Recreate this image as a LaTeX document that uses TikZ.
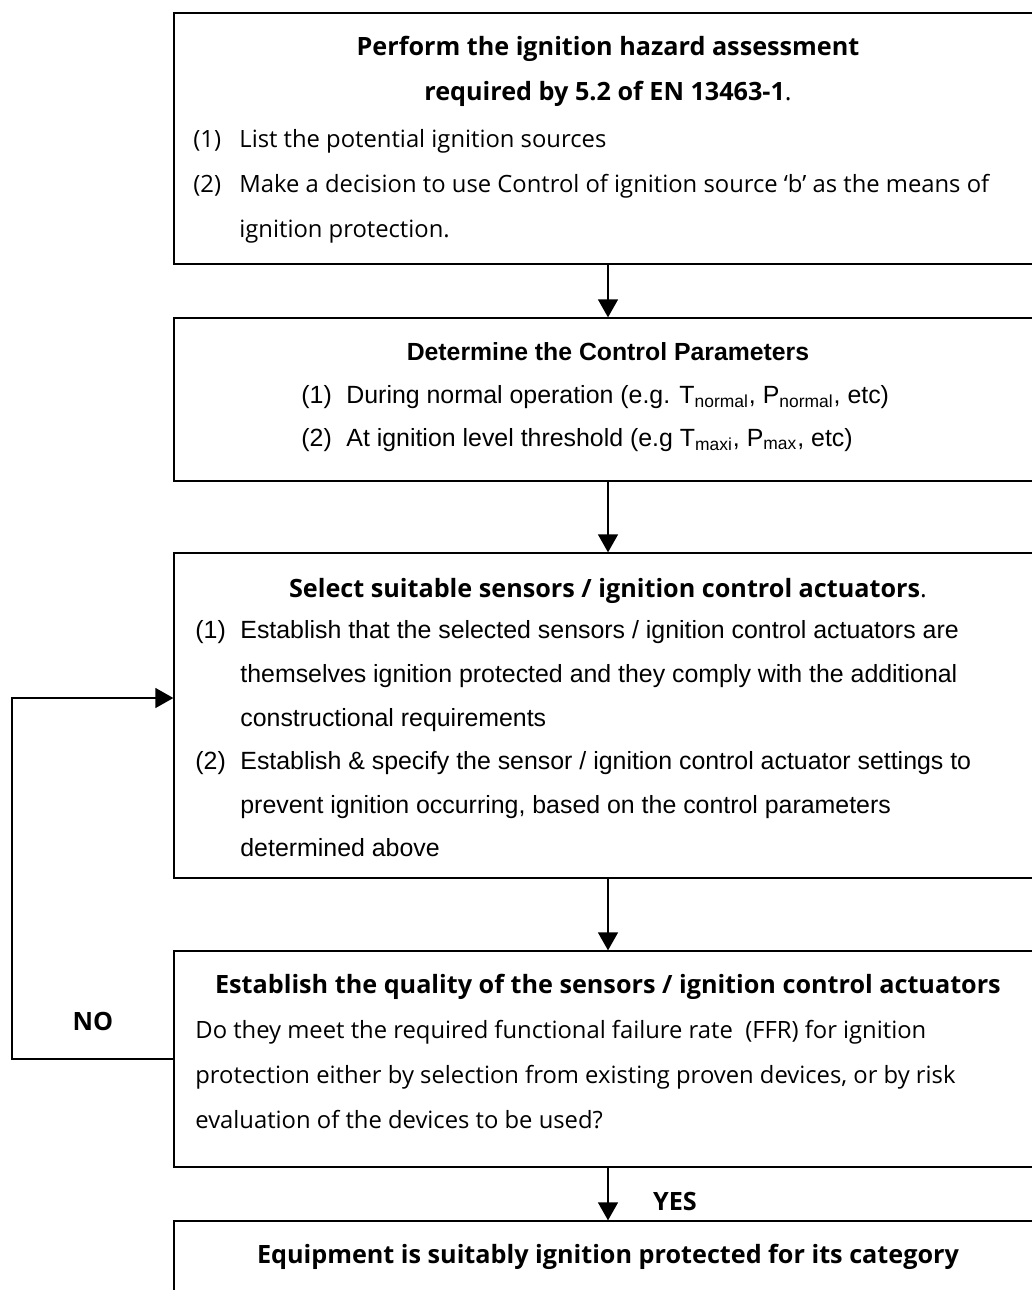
\documentclass[tikz,border=0pt]{standalone}
\usepackage{fontspec}
\setmainfont{Liberation Sans}
\newfontfamily\dotum{Open Sans}
\usetikzlibrary{arrows.meta, fit, positioning}

\tikzset{
  box/.style={draw=black, line width=0.65pt, inner sep=0pt},
  arr/.style={line width=0.65pt, -{Triangle[width=10pt,length=9pt]}},
  dtxt/.style={inner sep=0pt, anchor=base west, font=\dotum\fontsize{11.9}{14}\selectfont},
  dhead/.style={inner sep=0pt, anchor=base, font=\dotum\bfseries\fontsize{12.6}{15}\selectfont},
  atxt/.style={inner sep=0pt, anchor=base west, font=\fontsize{12.45}{14}\selectfont},
  ahead/.style={inner sep=0pt, anchor=base, font=\bfseries\fontsize{12.4}{14}\selectfont}
}

\begin{document}
\begin{tikzpicture}[x=0.5pt, y=-0.5pt]
\useasboundingbox (0,0) rectangle (1032,1290);

% Kroki procedury
\node[box, fit={(174,13) (1042,264)}] (b1) {};
\node[box, fit={(174,318) (1042,481)}] (b2) {};
\node[box, fit={(174,553) (1042,878)}] (b3) {};
\node[box, fit={(174,951) (1042,1167)}] (b4) {};
\node[box, fit={(174,1221) (1042,1330)}] (b5) {};

% Krok 1
\node[dhead] (t1) at (608,55) {Perform the ignition hazard assessment};
\node[dhead] (t1b) at (608,100) {required by 5.2 of EN 13463-1\textmd{.}};
\node[dtxt] (n11) at (193,147) {(1)};
\node[dtxt] (s11) at (239,147) {List the potential ignition sources};
\node[dtxt] (n12) at (193,192) {(2)};
\node[dtxt] (s12) at (239,192) {Make a decision to use Control of ignition source ‘b’ as the means of};
\node[dtxt] (s12b) at (239,237) {ignition protection.};

% Krok 2
\node[ahead] (t2) at (608,360) {Determine the Control Parameters};
\node[atxt] (n21) at (301,403) {(1)};
\node[atxt] (s21) at (346,403) {During normal operation (e.g. T\textsubscript{normal}, P\textsubscript{normal}, etc)};
\node[atxt] (n22) at (301,446) {(2)};
\node[atxt] (s22) at (346,446) {At ignition level threshold (e.g T\textsubscript{maxi}, P\textsubscript{max}, etc)};

% Krok 3
\node[dhead] (t3) at (608,597) {Select suitable sensors / ignition control actuators\textmd{.}};
\node[atxt] (n31) at (195,638) {(1)};
\node[atxt] (n32) at (195,769) {(2)};
\foreach \y/\txt [count=\k] in {
  638/{Establish that the selected sensors / ignition control actuators are},
  682/{themselves ignition protected and they comply with the additional},
  726/{constructional requirements},
  769/{Establish \& specify the sensor / ignition control actuator settings to},
  813/{prevent ignition occurring, based on the control parameters},
  856/{determined above}} {
  \node[atxt] (s3\k) at (240,\y) {\txt};
}

% Krok 4
\node[dhead] (t4) at (608,993) {Establish the quality of the sensors / ignition control actuators};
\foreach \y/\txt [count=\k] in {
  1038/{Do they meet the required functional failure rate\ \ (FFR) for ignition},
  1083/{protection either by selection from existing proven devices, or by risk},
  1128/{evaluation of the devices to be used?}} {
  \node[dtxt] (s4\k) at (195,\y) {\txt};
}

% Krok 5
\node[dhead] (t5) at (608,1263) {Equipment is suitably ignition protected for its category};

% Strzałki
\draw[arr] (b1.south) -- (b2.north);
\draw[arr] (b2.south) -- (b3.north);
\draw[arr] (b3.south) -- (b4.north);
\draw[arr] (b4.south) -- (b5.north);
\node[dhead] (yes) at (675,1210) {YES};

% Pętla NO
\coordinate (lp) at (12,698);
\draw[arr] (b4.west) -| (lp) -- (b3.west |- lp);
\node[dhead] (no) at (93,1030) {NO};

\end{tikzpicture}
\end{document}
